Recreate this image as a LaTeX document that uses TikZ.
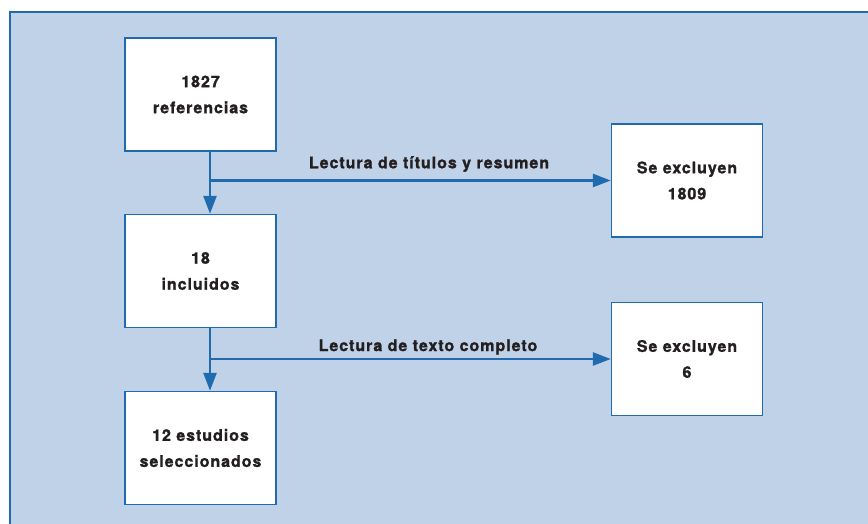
\documentclass[tikz,border=0pt]{standalone}
\usepackage{fontspec}
\setmainfont{TeX Gyre Heros}[LetterSpace=6, BoldFeatures={FakeBold=1.3}]
\usepackage{tikz}
\usetikzlibrary{arrows.meta, calc, positioning}

\definecolor{fondo}{HTML}{C0D2E8}
\definecolor{azul}{HTML}{1F6BAE}
\definecolor{texto}{HTML}{231F20}

\begin{document}
\begin{tikzpicture}[x=1pt, y=-1pt,
    caja/.style={draw=azul, line width=1.4pt, fill=white, minimum width=151pt, minimum height=113pt,
        align=center, text=texto, font=\bfseries\fontsize{16}{26}\selectfont},
    flecha/.style={azul, line width=2.6pt, -{Triangle[length=18pt, width=13pt]}},
    etiq/.style={text=texto, font=\bfseries\fontsize{16}{18}\selectfont}]
    \useasboundingbox (0, 0) rectangle (868, 524);
    \fill[white] (0, 0) rectangle (868, 524);
    \draw[azul, fill=fondo, line width=2pt] (10, 12) rectangle (880, 540);

    % cajas
    \node[caja] (refs) at (200.5, 94.5) {1827\\referencias};
    \node[caja] (incl) at (200.5, 271) {18\\incluidos};
    \node[caja] (sel) at (200.5, 448) {12 estudios\\seleccionados};
    \node[caja] (exc1) at (687, 180.5) {Se excluyen\\1809};
    \node[caja] (exc2) at (687, 359) {Se excluyen\\6};

    \coordinate (j1) at ([xshift=9.5pt]refs.south |- exc1.west);
    \coordinate (j2) at ([xshift=9.5pt]incl.south |- exc2.west);

    \draw[flecha] ([xshift=9.5pt]refs.south) -- ([xshift=9.5pt]incl.north);
    \draw[flecha] ([xshift=9.5pt]incl.south) -- ([xshift=9.5pt]sel.north);
    \draw[flecha] (j1) -- (exc1.west);
    \draw[flecha] (j2) -- (exc2.west);

    \node[etiq] (lec1) at (429, 164) {Lectura de títulos y resumen};
    \node[etiq] (lec2) at (428, 347) {Lectura de texto completo};
\end{tikzpicture}
\end{document}
